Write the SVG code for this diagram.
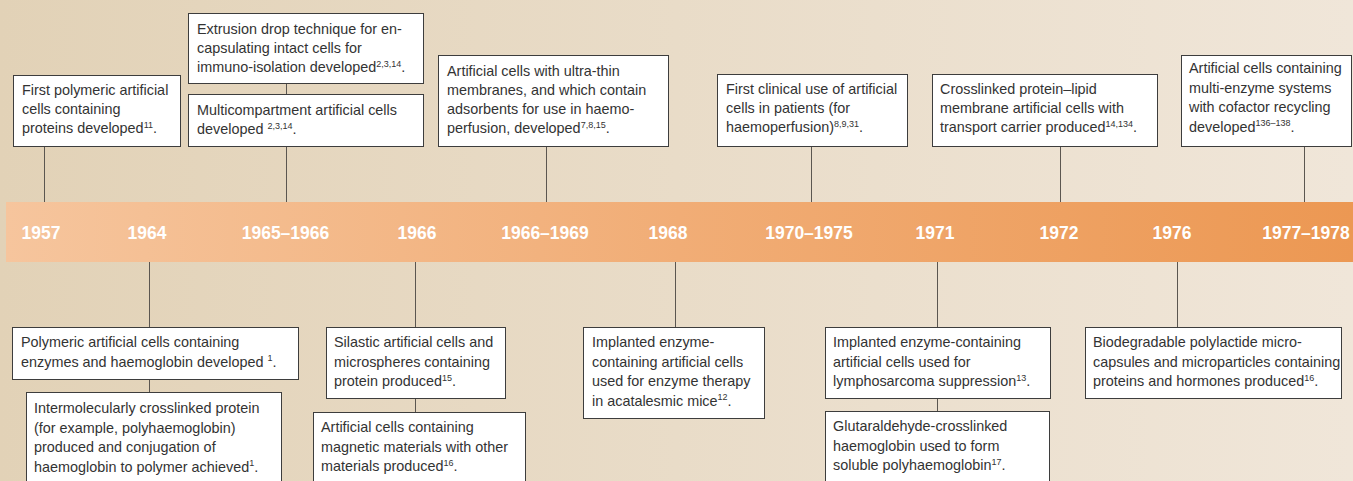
<svg xmlns="http://www.w3.org/2000/svg" width="1353" height="481" viewBox="0 0 1353 481">
  <style>
    .box { fill: #ffffff; stroke: #3d3d3d; stroke-width: 1; }
    .txt { font-family: "Liberation Sans", Arial, sans-serif; font-size: 14.4px; fill: #333333; }
    .sup { font-size: 9px; }
    .year { font-family: "Liberation Sans", Arial, sans-serif; font-size: 17.5px; font-weight: bold; fill: #ffffff; text-anchor: middle; }
    .conn line { stroke: #5b5650; stroke-width: 1; }
  </style>
  <defs>
    <linearGradient id="bg" x1="0" y1="0" x2="1" y2="0">
      <stop offset="0" stop-color="#e2d2b7"/>
      <stop offset="1" stop-color="#f0e6d9"/>
    </linearGradient>
    <linearGradient id="bandFill" x1="0" y1="0" x2="1" y2="0">
      <stop offset="0" stop-color="#f6c59d"/>
      <stop offset="0.5" stop-color="#f1ad76"/>
      <stop offset="1" stop-color="#ec9853"/>
    </linearGradient>
  </defs>

  <!-- background -->
  <rect x="0" y="0" width="1353" height="481" fill="url(#bg)"/>

  <!-- timeline band with years -->
  <g id="timeline">
    <rect x="6" y="202" width="1347" height="60" fill="url(#bandFill)"/>
    <text class="year" x="41" y="239">1957</text>
    <text class="year" x="147" y="239">1964</text>
    <text class="year" x="285.5" y="239">1965–1966</text>
    <text class="year" x="417" y="239">1966</text>
    <text class="year" x="545" y="239">1966–1969</text>
    <text class="year" x="668" y="239">1968</text>
    <text class="year" x="809" y="239">1970–1975</text>
    <text class="year" x="935" y="239">1971</text>
    <text class="year" x="1059" y="239">1972</text>
    <text class="year" x="1172" y="239">1976</text>
    <text class="year" x="1306" y="239">1977–1978</text>
  </g>

  <!-- connectors -->
  <g id="connectors" class="conn">
    <line x1="44.5" y1="146" x2="44.5" y2="202"/>
    <line x1="286.5" y1="83" x2="286.5" y2="94"/>
    <line x1="286.5" y1="146" x2="286.5" y2="202"/>
    <line x1="546.5" y1="146" x2="546.5" y2="202"/>
    <line x1="811.5" y1="146" x2="811.5" y2="202"/>
    <line x1="1060.5" y1="146" x2="1060.5" y2="202"/>
    <line x1="1304.5" y1="146" x2="1304.5" y2="202"/>
    <line x1="149.5" y1="262" x2="149.5" y2="327"/>
    <line x1="149.5" y1="379" x2="149.5" y2="392"/>
    <line x1="415.5" y1="262" x2="415.5" y2="327"/>
    <line x1="415.5" y1="398" x2="415.5" y2="412"/>
    <line x1="675.5" y1="262" x2="675.5" y2="327"/>
    <line x1="937.5" y1="262" x2="937.5" y2="327"/>
    <line x1="937.5" y1="398" x2="937.5" y2="411"/>
    <line x1="1177.5" y1="262" x2="1177.5" y2="327"/>
  </g>

  <!-- events above the band -->
  <g id="ev-1957">
    <rect class="box" x="13.5" y="75.5" width="167" height="71"/>
    <text class="txt" x="22" y="95">
      <tspan x="22">First polymeric artificial</tspan>
      <tspan x="22" dy="19">cells containing</tspan>
      <tspan x="22" dy="19">proteins developed<tspan class="sup" dy="-5.5">11</tspan><tspan dy="5.5">.</tspan></tspan>
    </text>
  </g>
  <g id="ev-1965a">
    <rect class="box" x="188.5" y="13.5" width="235" height="70"/>
    <text class="txt" x="197" y="34">
      <tspan x="197">Extrusion drop technique for en-</tspan>
      <tspan x="197" dy="19">capsulating intact cells for</tspan>
      <tspan x="197" dy="19">immuno-isolation developed<tspan class="sup" dy="-5.5">2,3,14</tspan><tspan dy="5.5">.</tspan></tspan>
    </text>
  </g>
  <g id="ev-1965b">
    <rect class="box" x="188.5" y="94.5" width="235" height="52"/>
    <text class="txt" x="197" y="115">
      <tspan x="197">Multicompartment artificial cells</tspan>
      <tspan x="197" dy="19">developed <tspan class="sup" dy="-5.5">2,3,14</tspan><tspan dy="5.5">.</tspan></tspan>
    </text>
  </g>
  <g id="ev-1966-1969">
    <rect class="box" x="438.5" y="55.5" width="230" height="91"/>
    <text class="txt" x="447" y="76">
      <tspan x="447">Artificial cells with ultra-thin</tspan>
      <tspan x="447" dy="19">membranes, and which contain</tspan>
      <tspan x="447" dy="19">adsorbents for use in haemo-</tspan>
      <tspan x="447" dy="19">perfusion, developed<tspan class="sup" dy="-5.5">7,8,15</tspan><tspan dy="5.5">.</tspan></tspan>
    </text>
  </g>
  <g id="ev-1970-1975">
    <rect class="box" x="717.5" y="74.5" width="190" height="72"/>
    <text class="txt" x="726" y="94">
      <tspan x="726">First clinical use of artificial</tspan>
      <tspan x="726" dy="19">cells in patients (for</tspan>
      <tspan x="726" dy="19">haemoperfusion)<tspan class="sup" dy="-5.5">8,9,31</tspan><tspan dy="5.5">.</tspan></tspan>
    </text>
  </g>
  <g id="ev-1972">
    <rect class="box" x="932.5" y="74.5" width="225" height="72"/>
    <text class="txt" x="940" y="94">
      <tspan x="940">Crosslinked protein–lipid</tspan>
      <tspan x="940" dy="19">membrane artificial cells with</tspan>
      <tspan x="940" dy="19">transport carrier produced<tspan class="sup" dy="-5.5">14,134</tspan><tspan dy="5.5">.</tspan></tspan>
    </text>
  </g>
  <g id="ev-1977-1978">
    <rect class="box" x="1181.5" y="55.5" width="170" height="91"/>
    <text class="txt" x="1189" y="73">
      <tspan x="1189">Artificial cells containing</tspan>
      <tspan x="1189" dy="19.5">multi-enzyme systems</tspan>
      <tspan x="1189" dy="19.5">with cofactor recycling</tspan>
      <tspan x="1189" dy="19.5">developed<tspan class="sup" dy="-5.5">136–138</tspan><tspan dy="5.5">.</tspan></tspan>
    </text>
  </g>

  <!-- events below the band -->
  <g id="ev-1964a">
    <rect class="box" x="12.5" y="327.5" width="286" height="52"/>
    <text class="txt" x="21" y="347">
      <tspan x="21">Polymeric artificial cells containing</tspan>
      <tspan x="21" dy="19.5">enzymes and haemoglobin developed <tspan class="sup" dy="-5.5">1</tspan><tspan dy="5.5">.</tspan></tspan>
    </text>
  </g>
  <g id="ev-1964b">
    <rect class="box" x="26.5" y="392.5" width="255" height="95"/>
    <text class="txt" x="34" y="413">
      <tspan x="34">Intermolecularly crosslinked protein</tspan>
      <tspan x="34" dy="19.5">(for example, polyhaemoglobin)</tspan>
      <tspan x="34" dy="19.5">produced and conjugation of</tspan>
      <tspan x="34" dy="19.5">haemoglobin to polymer achieved<tspan class="sup" dy="-5.5">1</tspan><tspan dy="5.5">.</tspan></tspan>
    </text>
  </g>
  <g id="ev-1966a">
    <rect class="box" x="326.5" y="327.5" width="179" height="71"/>
    <text class="txt" x="334" y="347">
      <tspan x="334">Silastic artificial cells and</tspan>
      <tspan x="334" dy="19.5">microspheres containing</tspan>
      <tspan x="334" dy="19.5">protein produced<tspan class="sup" dy="-5.5">15</tspan><tspan dy="5.5">.</tspan></tspan>
    </text>
  </g>
  <g id="ev-1966b">
    <rect class="box" x="313.5" y="412.5" width="212" height="75"/>
    <text class="txt" x="321" y="432">
      <tspan x="321">Artificial cells containing</tspan>
      <tspan x="321" dy="19.5">magnetic materials with other</tspan>
      <tspan x="321" dy="19.5">materials produced<tspan class="sup" dy="-5.5">16</tspan><tspan dy="5.5">.</tspan></tspan>
    </text>
  </g>
  <g id="ev-1968">
    <rect class="box" x="583.5" y="327.5" width="181" height="91"/>
    <text class="txt" x="592" y="347">
      <tspan x="592">Implanted enzyme-</tspan>
      <tspan x="592" dy="19.5">containing artificial cells</tspan>
      <tspan x="592" dy="19.5">used for enzyme therapy</tspan>
      <tspan x="592" dy="19.5">in acatalesmic mice<tspan class="sup" dy="-5.5">12</tspan><tspan dy="5.5">.</tspan></tspan>
    </text>
  </g>
  <g id="ev-1971a">
    <rect class="box" x="825.5" y="327.5" width="225" height="71"/>
    <text class="txt" x="833" y="347">
      <tspan x="833">Implanted enzyme-containing</tspan>
      <tspan x="833" dy="19.5">artificial cells used for</tspan>
      <tspan x="833" dy="19.5">lymphosarcoma suppression<tspan class="sup" dy="-5.5">13</tspan><tspan dy="5.5">.</tspan></tspan>
    </text>
  </g>
  <g id="ev-1971b">
    <rect class="box" x="825.5" y="411.5" width="224" height="76"/>
    <text class="txt" x="833" y="431">
      <tspan x="833">Glutaraldehyde-crosslinked</tspan>
      <tspan x="833" dy="19.5">haemoglobin used to form</tspan>
      <tspan x="833" dy="19.5">soluble polyhaemoglobin<tspan class="sup" dy="-5.5">17</tspan><tspan dy="5.5">.</tspan></tspan>
    </text>
  </g>
  <g id="ev-1976">
    <rect class="box" x="1085.5" y="327.5" width="256" height="71"/>
    <text class="txt" x="1093" y="347">
      <tspan x="1093">Biodegradable polylactide micro-</tspan>
      <tspan x="1093" dy="19.5">capsules and microparticles containing</tspan>
      <tspan x="1093" dy="19.5">proteins and hormones produced<tspan class="sup" dy="-5.5">16</tspan><tspan dy="5.5">.</tspan></tspan>
    </text>
  </g>
</svg>
